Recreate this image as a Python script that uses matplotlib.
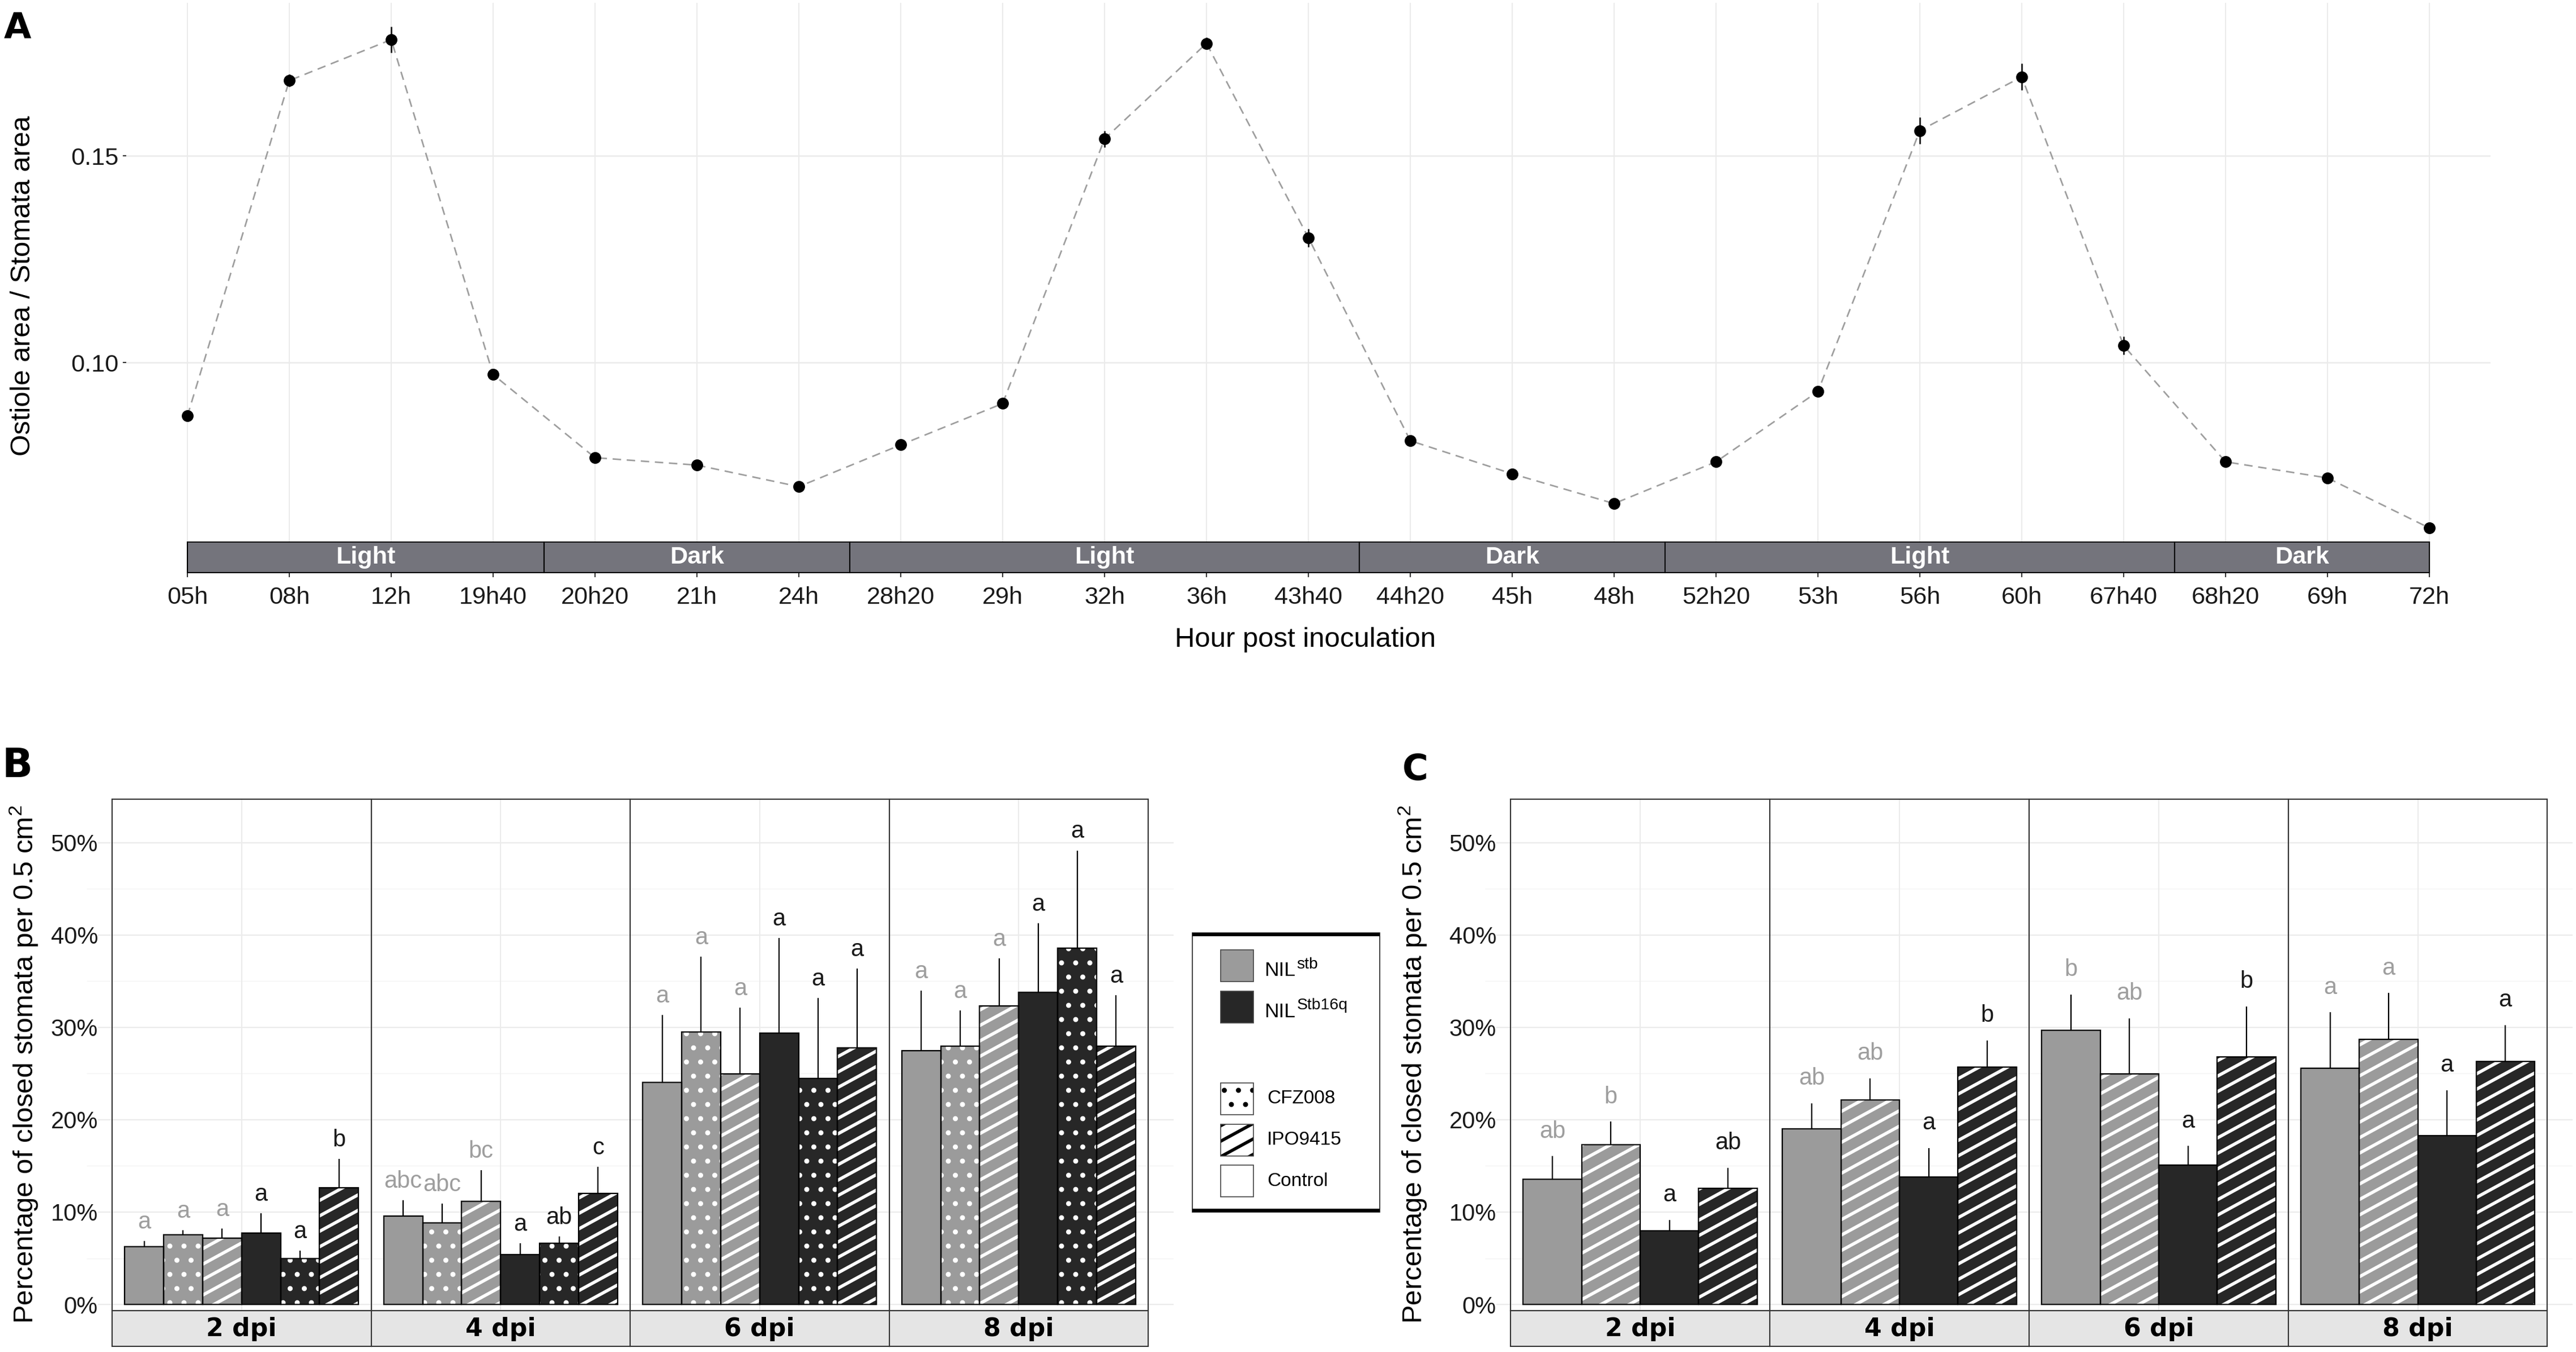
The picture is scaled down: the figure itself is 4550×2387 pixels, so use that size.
import numpy as np
import matplotlib
matplotlib.use('Agg')
import matplotlib.pyplot as plt
import matplotlib.hatch as mhatch
from matplotlib.path import Path
from matplotlib.patches import Rectangle

plt.rcParams['font.family'] = ['Liberation Sans', 'DejaVu Sans']
plt.rcParams['mathtext.fontset'] = 'custom'
plt.rcParams['mathtext.rm'] = 'Liberation Sans'
plt.rcParams['mathtext.it'] = 'Liberation Sans:italic'
plt.rcParams['mathtext.bf'] = 'Liberation Sans:bold'
plt.rcParams['hatch.linewidth'] = 1.35

# ---- panel A: ostiole / stomata area ratio over time
hours = ['05h', '08h', '12h', '19h40', '20h20', '21h', '24h', '28h20', '29h',
         '32h', '36h', '43h40', '44h20', '45h', '48h', '52h20', '53h', '56h',
         '60h', '67h40', '68h20', '69h', '72h']
ratio = [0.0871, 0.1682, 0.1781, 0.0971, 0.0770, 0.0752, 0.0700, 0.0801, 0.0901,
         0.1541, 0.1772, 0.1302, 0.0811, 0.0731, 0.0659, 0.0760, 0.0930, 0.1561,
         0.1691, 0.1041, 0.0760, 0.0721, 0.0600]
ratio_se = [0.0008, 0.0015, 0.0032, 0.0012, 0.0008, 0.0008, 0.0006, 0.0008, 0.0008,
            0.0020, 0.0015, 0.0022, 0.0008, 0.0008, 0.0008, 0.0006, 0.0008, 0.0032,
            0.0032, 0.0022, 0.0006, 0.0008, 0.0008]
phase_names = ['Light', 'Dark', 'Light', 'Dark', 'Light', 'Dark']
phase_starts = ['05h', '20h20', '28h20', '44h20', '52h20', '68h20']

# ---- panels B and C: closed stomata (%)
dpi_levels = ['2 dpi', '4 dpi', '6 dpi', '8 dpi']

b_line = ['stb', 'stb', 'stb', 'Stb16q', 'Stb16q', 'Stb16q']
b_strain = ['Control', 'CFZ008', 'IPO9415', 'Control', 'CFZ008', 'IPO9415']
b_mean = [[6.24, 7.55, 7.20, 7.75, 4.95, 12.62],
          [9.57, 8.81, 11.19, 5.40, 6.60, 12.00],
          [24.04, 29.49, 24.98, 29.40, 24.47, 27.79],
          [27.45, 27.96, 32.30, 33.79, 38.60, 27.96]]
b_err = [[0.65, 0.47, 1.02, 2.15, 0.86, 3.17],
         [1.71, 2.13, 3.36, 1.20, 0.76, 2.90],
         [7.32, 8.17, 7.15, 10.26, 8.68, 8.59],
         [6.55, 3.87, 5.15, 7.49, 10.55, 5.53]]
b_letters = [['a', 'a', 'a', 'a', 'a', 'b'],
             ['abc', 'abc', 'bc', 'a', 'ab', 'c'],
             ['a', 'a', 'a', 'a', 'a', 'a'],
             ['a', 'a', 'a', 'a', 'a', 'a']]

c_line = ['stb', 'stb', 'Stb16q', 'Stb16q']
c_strain = ['Control', 'IPO9415', 'Control', 'IPO9415']
c_mean = [[13.57, 17.28, 8.00, 12.55],
          [19.02, 22.17, 13.79, 25.70],
          [29.70, 24.94, 15.11, 26.81],
          [25.57, 28.72, 18.30, 26.34]]
c_err = [[2.47, 2.51, 1.15, 2.26],
         [2.77, 2.30, 3.15, 2.90],
         [3.87, 6.04, 2.04, 5.45],
         [6.05, 4.98, 4.89, 3.92]]
c_letters = [['ab', 'b', 'a', 'ab'],
             ['ab', 'ab', 'a', 'b'],
             ['b', 'ab', 'a', 'b'],
             ['a', 'a', 'a', 'a']]

legend_lines = ['stb', 'Stb16q']
legend_strains = ['CFZ008', 'IPO9415', 'Control']

# ---- styles
line_fill = {'stb': '#9B9B9B', 'Stb16q': '#272727'}
letter_col = {'stb': '#9E9E9E', 'Stb16q': '#1A1A1A'}
strain_hatch = {'Control': None, 'CFZ008': '..', 'IPO9415': '/'}
grid_col = '#EBEBEB'
minor_col = '#F4F4F4'
border_col = '#333333'


# shallow white stripes like the ggpattern ones (about 28 deg, 11 per inch)
class SlantHatch(mhatch.HatchPatternBase):
    rise, per_inch = 6, 11

    def __init__(self, hatch, density):
        self.num_lines = (self.per_inch + self.rise + 1) if '/' in hatch else 0
        self.num_vertices = 2 * self.num_lines

    def set_vertices_and_codes(self, vertices, codes):
        s = self.rise / self.per_inch
        c = np.arange(-self.rise, self.per_inch + 1) / self.per_inch
        vertices[0::2, 0] = -0.1
        vertices[0::2, 1] = c - 0.1 * s
        vertices[1::2, 0] = 1.1
        vertices[1::2, 1] = c + 1.1 * s
        codes[0::2] = Path.MOVETO
        codes[1::2] = Path.LINETO


mhatch._hatch_types[mhatch._hatch_types.index(mhatch.NorthEastHatch)] = SlantHatch
mhatch.SmallFilledCircles.size = 0.065

W, H, DPI = 4550, 2387, 300
fig = plt.figure(figsize=(W / DPI, H / DPI), dpi=DPI)


def rect(x0, y0, x1, y1):
    return [x0 / W, 1 - y1 / H, (x1 - x0) / W, (y1 - y0) / H]


# ================= panel A
ax = fig.add_axes(rect(223, 5, 4399, 1011))
x = np.arange(len(hours))
ylo, yhi, strip_top = 0.0492, 0.1870, 0.0566
ax.set_xlim(-0.6, len(hours) - 0.4)
ax.set_ylim(ylo, yhi)
for s in ax.spines.values():
    s.set_visible(False)
ax.hlines([0.10, 0.15], -0.6, len(hours) - 0.4, color=grid_col, lw=0.6, zorder=0)
ax.vlines(x, strip_top, yhi, color=grid_col, lw=0.5, zorder=0)
ax.plot(x, ratio, color='#9E9E9E', lw=0.65, dashes=(5.5, 3.7), zorder=2)
ax.errorbar(x, ratio, yerr=ratio_se, fmt='o', ms=4, color='black',
            elinewidth=0.6, capsize=0, zorder=3)

starts = [hours.index(h) for h in phase_starts]
lefts = [0] + [i - 0.5 for i in starts[1:]]
rights = lefts[1:] + [len(hours) - 1]
for name, l, r in zip(phase_names, lefts, rights):
    ax.add_patch(Rectangle((l, ylo), r - l, strip_top - ylo, fc='#74747C',
                           ec='black', lw=0.5, clip_on=False, zorder=4))
    ax.text((l + r) / 2, (ylo + strip_top) / 2, name, color='white',
            fontsize=10.4, fontweight='bold', ha='center', va='center', zorder=5)

ax.set_xticks(x, hours)
ax.set_yticks([0.10, 0.15], ['0.10', '0.15'])
ax.tick_params(axis='x', length=1.9, width=0.5, pad=3.8, labelsize=10.4,
               color=border_col, labelcolor='#1A1A1A')
ax.tick_params(axis='y', length=1.5, width=0.5, pad=1.7, labelsize=10.4,
               color=border_col, labelcolor='#1A1A1A')
fig.text(41 / W, 1 - 505 / H, 'Ostiole area / Stomata area', rotation=90,
         fontsize=11.8, ha='center', va='center')
fig.text(2306 / W, 1 - 1129 / H, 'Hour post inoculation', fontsize=11.8,
         ha='center', va='center')


# ================= panels B and C
ylim = (-0.67, 54.7)
major = np.arange(0, 51, 10)
minor = np.arange(5, 50, 10)


def facet_panel(xs, lines, strains, means, errs, letters, offset):
    top, bottom, sbot = 1411, 2314, 2377
    n = len(lines)
    w = 0.903 / n
    pos = 0.5 + (np.arange(n) - (n - 1) / 2) * w

    bg = fig.add_axes(rect(xs[0] - 45, top, xs[-1] + 45, bottom))
    bg.set_zorder(-1)
    bg.axis('off')
    bg.set_xlim(xs[0] - 45, xs[-1] + 45)
    bg.set_ylim(ylim)
    bg.hlines(minor, xs[0] - 45, xs[-1] + 45, color=minor_col, lw=0.35)
    bg.hlines(major, xs[0] - 25, xs[-1] + 45, color=grid_col, lw=0.55)

    for k, level in enumerate(dpi_levels):
        ax = fig.add_axes(rect(xs[k], top, xs[k + 1], bottom))
        ax.set_facecolor('none')
        ax.set_xlim(0, 1)
        ax.set_ylim(ylim)
        ax.axvline(0.5, color=grid_col, lw=0.5, zorder=0)
        for s in ax.spines.values():
            s.set_color(border_col)
            s.set_linewidth(0.5)
        ax.set_xticks([])
        if k == 0:
            ax.set_yticks(major, [f'{v}%' for v in major])
            ax.tick_params(axis='y', length=0, pad=6, labelsize=10,
                           labelcolor='#1A1A1A')
        else:
            ax.set_yticks([])
        for i in range(n):
            h, e = means[k][i], errs[k][i]
            hatch = strain_hatch[strains[i]]
            fill = line_fill[lines[i]]
            ax.bar(pos[i], h, w, color=fill, lw=0, zorder=2,
                   edgecolor='white' if hatch else fill, hatch=hatch)
            ax.bar(pos[i], h, w, facecolor='none', edgecolor='black',
                   lw=0.55, zorder=3)
            ax.vlines(pos[i], h, h + e, color='black', lw=0.55, zorder=3)
            ax.text(pos[i], h + e + offset, letters[k][i], ha='center',
                    va='baseline', fontsize=10, color=letter_col[lines[i]])

        sax = fig.add_axes(rect(xs[k], bottom, xs[k + 1], sbot))
        sax.set_facecolor('#E5E5E5')
        sax.set_xticks([])
        sax.set_yticks([])
        for s in sax.spines.values():
            s.set_color(border_col)
            s.set_linewidth(0.5)
        sax.text(0.5, 0.48, level, transform=sax.transAxes, ha='center',
                 va='center', fontsize=10.6, fontweight='bold',
                 family='DejaVu Sans')


facet_panel([198, 655.5, 1113, 1570.5, 2028], b_line, b_strain,
            b_mean, b_err, b_letters, 1.35)
facet_panel([2668, 3126, 3584, 4042, 4499], c_line, c_strain,
            c_mean, c_err, c_letters, 2.0)

ylab = 'Percentage of closed stomata per 0.5 cm$^2$'
fig.text(42 / W, 1 - 1879 / H, ylab, rotation=90, fontsize=11.8,
         ha='center', va='center')
fig.text(2495 / W, 1 - 1879 / H, ylab, rotation=90, fontsize=11.8,
         ha='center', va='center')

# ================= legend
lx0, ly0, lx1, ly1 = 2106, 1647, 2437, 2140
lax = fig.add_axes(rect(lx0, ly0, lx1, ly1))
lax.set_xlim(lx0, lx1)
lax.set_ylim(ly1, ly0)
lax.axis('off')
lax.add_patch(Rectangle((lx0, ly0), lx1 - lx0, ly1 - ly0, fc='white',
                        ec='#222222', lw=0.4, clip_on=False))
lax.plot([lx0, lx1], [ly0 + 3, ly0 + 3], color='black', lw=1.4,
         solid_capstyle='butt', clip_on=False)
lax.plot([lx0, lx1], [ly1 - 3, ly1 - 3], color='black', lw=1.4,
         solid_capstyle='butt', clip_on=False)
key_x, key_w, key_h, step = 2156, 58, 56, 72.5
for j, ln in enumerate(legend_lines):
    cy = 1705 + j * step
    lax.add_patch(Rectangle((key_x, cy - key_h / 2), key_w, key_h,
                            fc=line_fill[ln], ec='#444444', lw=0.4))
    t = lax.text(key_x + 77, cy + 18, 'NIL', fontsize=8.5, ha='left',
                 va='baseline')
    lax.annotate(ln, xy=(1.0, 0.0), xycoords=t, xytext=(0.6, 4.9),
                 textcoords='offset points', fontsize=6.8, ha='left',
                 va='baseline')
for j, st in enumerate(legend_strains):
    cy = 1940 + j * step
    hatch = strain_hatch[st]
    lax.add_patch(Rectangle((key_x, cy - key_h / 2), key_w, key_h, fc='white',
                            ec='black' if hatch else 'white', lw=0, hatch=hatch))
    lax.add_patch(Rectangle((key_x, cy - key_h / 2), key_w, key_h,
                            fc='none', ec='#444444', lw=0.4))
    lax.text(key_x + 82, cy, st, fontsize=8, ha='left', va='center')

# ================= panel letters
fig.text(7 / W, 1 - 20 / H, 'A', fontsize=15, fontweight='bold',
         family='DejaVu Sans', va='top')
fig.text(4 / W, 1 - 1318 / H, 'B', fontsize=17, fontweight='bold',
         family='DejaVu Sans', va='top')
fig.text(2477 / W, 1 - 1330 / H, 'C', fontsize=15, fontweight='bold',
         family='DejaVu Sans', va='top')

fig.savefig('out.png', dpi=DPI)
